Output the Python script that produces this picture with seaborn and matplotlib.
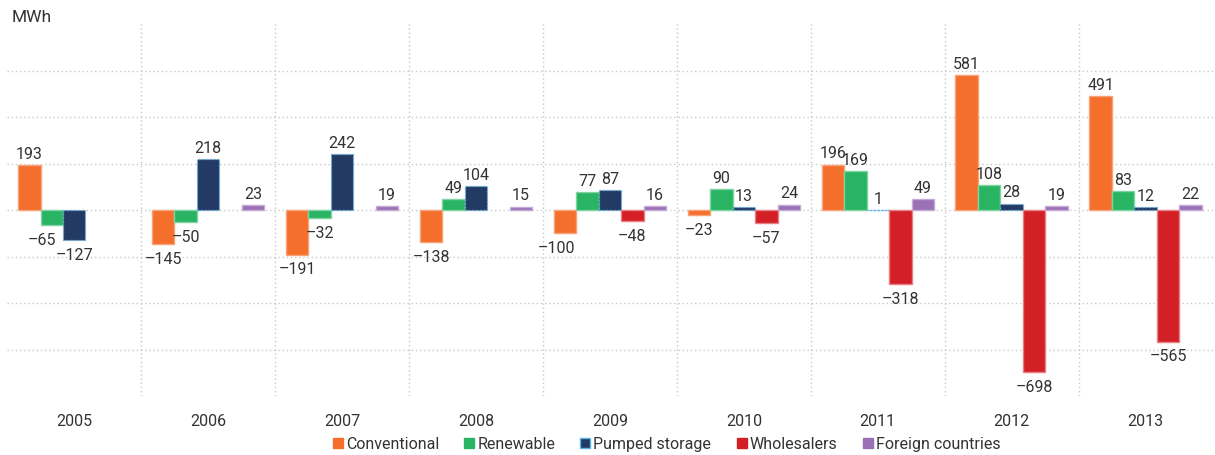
import numpy as np
import pandas as pd
import seaborn as sns
import matplotlib
matplotlib.use("Agg")
import matplotlib.pyplot as plt
from matplotlib.lines import Line2D

years = ["2005", "2006", "2007", "2008", "2009", "2010", "2011", "2012", "2013"]
series = ["Conventional", "Renewable", "Pumped storage", "Wholesalers", "Foreign countries"]
conventional = [193, -145, -191, -138, -100, -23, 196, 581, 491]
renewable = [-65, -50, -32, 49, 77, 90, 169, 108, 83]
pumped_storage = [-127, 218, 242, 104, 87, 13, 1, 28, 12]
wholesalers = [np.nan, np.nan, np.nan, np.nan, -48, -57, -318, -698, -565]
foreign = [np.nan, 23, 19, 15, 16, 24, 49, 19, 22]
unit_label = "MWh"

colors = ["#f36f2b", "#29b463", "#233a64", "#d32027", "#9b70b4"]
edge_colors = ["#f9a27a", "#7fd3a0", "#5ab4e5", "#ea7f83", "#c5a9d6"]

df = pd.DataFrame({
    "year": np.repeat(years, len(series)),
    "series": series * len(years),
    "value": np.column_stack([conventional, renewable, pumped_storage,
                              wholesalers, foreign]).ravel(),
})

sns.set_theme(style="white")
plt.rcParams["font.family"] = ["Roboto", "DejaVu Sans"]
text_color = "#333333"
label_size = 11.5

fig = plt.figure(figsize=(12.15, 4.56), dpi=100)
ax = fig.add_axes([0.006, 0.129, 0.992, 0.816])

sns.barplot(data=df, x="year", y="value", hue="series", order=years,
            hue_order=series, palette=colors, width=0.84, gap=0,
            saturation=1, legend=False, ax=ax, zorder=3)

ax.set_ylim(-800, 800)
ax.set_xlim(-0.5, len(years) - 0.5)

# dotted grid: horizontal every 200, vertical between year groups
grid_kw = dict(color="#c8c8c8", linewidth=1.0, linestyle=(0, (1, 2)), zorder=1)
for yv in range(-600, 601, 200):
    ax.axhline(yv, **grid_kw)
for xv in np.arange(0.5, len(years) - 1, 1.0):
    ax.axvline(xv, **grid_kw)

# a few labels are shifted sideways so neighbours don't collide (points)
label_nudge = {("Renewable", -65): -7, ("Conventional", -100): -6}

for cont, ec, name in zip(ax.containers, edge_colors, series):
    for bar in cont:
        bar.set_edgecolor(ec)
        bar.set_linewidth(1.0)
        if name == "Pumped storage":
            bar.set_linestyle(":")
        h = bar.get_height()
        if np.isnan(h):
            continue
        x = bar.get_x() + bar.get_width() / 2
        dx = label_nudge.get((name, int(h)), 0)
        txt = f"{h:.0f}".replace("-", "\u2013")
        if h >= 0:
            ax.annotate(txt, (x, h), xytext=(dx, 3), textcoords="offset points",
                        ha="center", va="bottom", fontsize=label_size,
                        color=text_color, zorder=4)
        else:
            ax.annotate(txt, (x, h), xytext=(dx, -5), textcoords="offset points",
                        ha="center", va="top", fontsize=label_size,
                        color=text_color, zorder=4)

for s in ax.spines.values():
    s.set_visible(False)
ax.set_yticks([])
ax.set_xlabel("")
ax.set_ylabel("")
ax.tick_params(axis="x", length=0, pad=12, labelsize=11.5, labelcolor=text_color)

fig.text(12 / 1215, 1 - 18 / 456, unit_label, fontsize=12.5, color=text_color,
         ha="left", va="center")

handles = [Line2D([], [], marker="s", linestyle="none", markersize=7,
                  markerfacecolor=c, markeredgecolor=c) for c in colors]
handles[2].set_markeredgecolor("#5ab4e5")
fig.legend(handles, series, loc="center", bbox_to_anchor=(0.548, 1 - 445 / 456),
           ncol=5, frameon=False, fontsize=11.5, handletextpad=0.1,
           columnspacing=1.5, labelcolor=text_color, handlelength=0.8)

fig.savefig("out.png", dpi=100)
